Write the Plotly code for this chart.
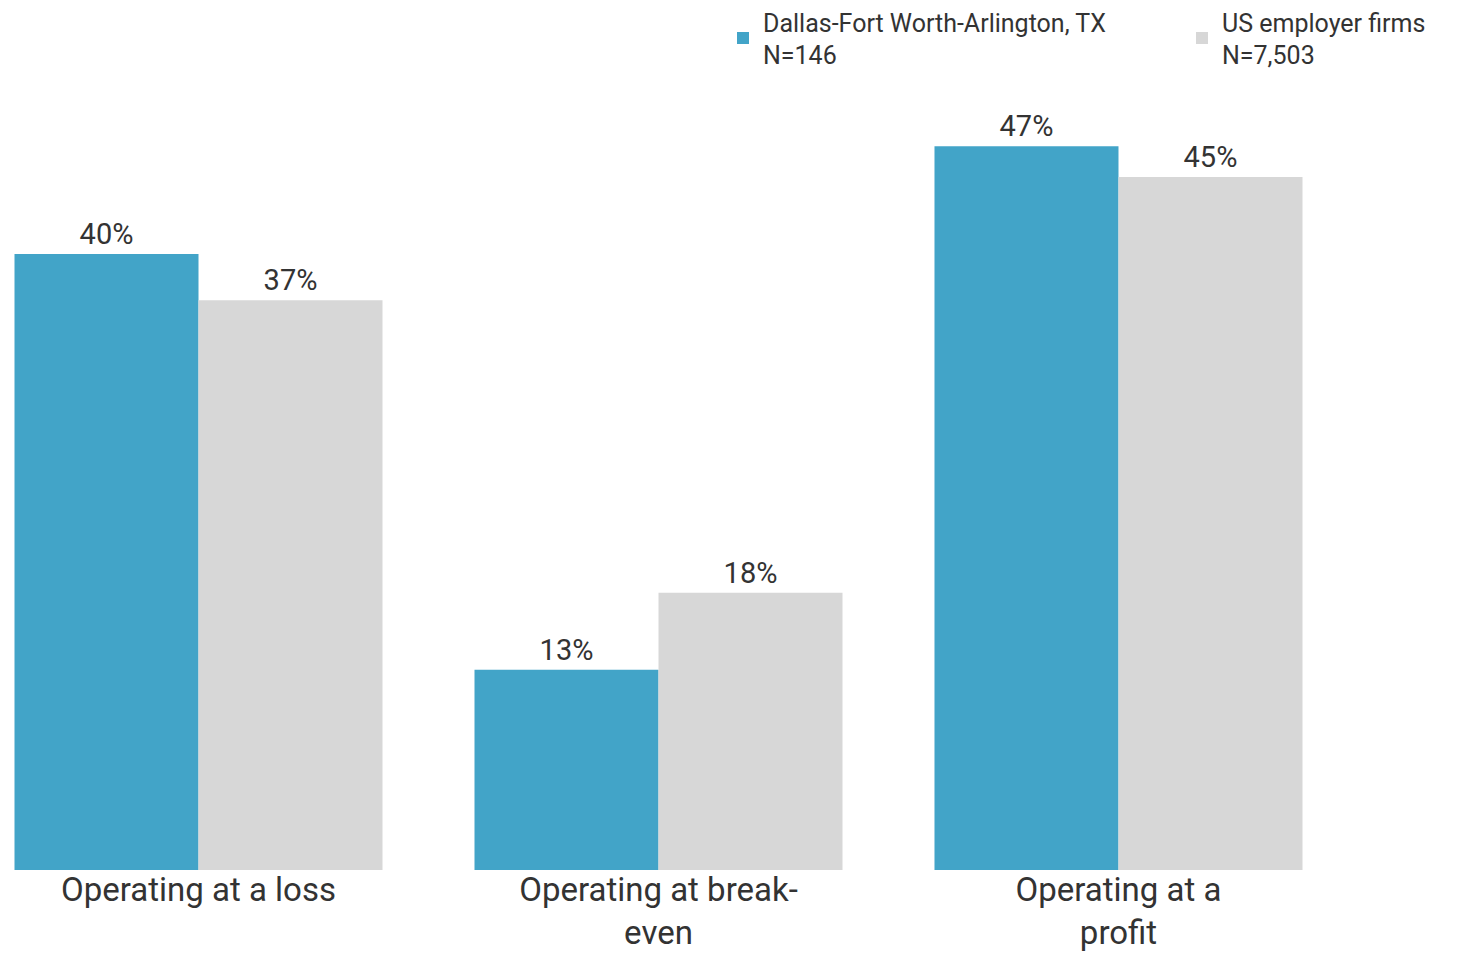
import plotly.graph_objects as go

categories = ["Operating at a loss", "Operating at break-<br>even", "Operating at a<br>profit"]
dallas_values = [40, 13, 47]
us_values = [37, 18, 45]
dallas_name = "Dallas-Fort Worth-Arlington, TX<br>N=146"
us_name = "US employer firms<br>N=7,503"

BLUE = "#42A4C8"
GRAY = "#D7D7D7"
TEXT = "#333333"

fig = go.Figure()
fig.add_trace(go.Bar(
    x=categories, y=dallas_values, name=dallas_name,
    marker=dict(color=BLUE, line=dict(width=0)),
    text=[f"{v}%" for v in dallas_values], textposition="outside",
    textfont=dict(size=29, color=TEXT), cliponaxis=False,
))
fig.add_trace(go.Bar(
    x=categories, y=us_values, name=us_name,
    marker=dict(color=GRAY, line=dict(width=0)),
    text=[f"{v}%" for v in us_values], textposition="outside",
    textfont=dict(size=29, color=TEXT), cliponaxis=False,
))

fig.update_layout(
    width=1460, height=953,
    barmode="group", bargap=0.2, bargroupgap=0,
    plot_bgcolor="white", paper_bgcolor="white",
    font=dict(family="Roboto, Arial, sans-serif", color=TEXT),
    margin=dict(l=0, r=0, t=92, b=91, autoexpand=False),
    xaxis=dict(range=[-0.41413, 2.7598], showgrid=False, showline=False, ticks="",
               tickfont=dict(size=33, color=TEXT), zeroline=False,
               ticklabelstandoff=-3),
    yaxis=dict(range=[0, 50], visible=False),
    legend=dict(orientation="h", x=715 / 1460, xanchor="left", xref="container",
                y=1 + (92 + 9) / 770, yanchor="top", yref="paper",
                font=dict(size=25, color=TEXT), traceorder="normal",
                entrywidth=414, entrywidthmode="pixels",
                bgcolor="rgba(0,0,0,0)"),
    showlegend=True,
)

fig.write_html("out.html")
